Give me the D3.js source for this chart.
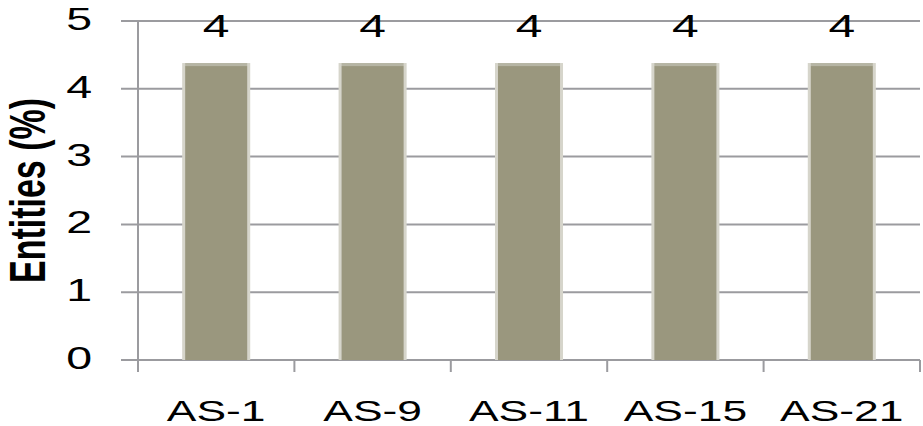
<!DOCTYPE html>
<html>
<head>
<meta charset="utf-8">
<style>
  body { margin: 0; background: #fff; }
  svg#chart { display: block; }
  .grid line { stroke: #9b9b9f; stroke-width: 2px; }
  .lbl { font-family: "Liberation Sans", Arial, sans-serif; fill: #000; }
</style>
</head>
<body>
<svg id="chart" width="923" height="426"></svg>
<script src="https://cdn.jsdelivr.net/npm/d3@7"></script>
<script>
  // data
  var categories = ["AS-1", "AS-9", "AS-11", "AS-15", "AS-21"];
  var values = [4.38, 4.38, 4.38, 4.38, 4.38];
  var yTicks = [0, 1, 2, 3, 4, 5];
  var yTitle = "Entities (%)";

  var svg = d3.select("#chart");

  var sx = 1.5; // the source picture is stretched sideways

  var x = d3.scaleBand()
    .domain(categories)
    .range([138, 920])
    .padding(0);

  var y = d3.scaleLinear()
    .domain([0, 5])
    .range([360, 21]);

  var barW = x.bandwidth() * 0.435;
  var edge = 3;

  // gridlines + tick marks on the left
  svg.append("g")
    .attr("class", "grid")
    .selectAll("line")
    .data(yTicks)
    .enter().append("line")
    .attr("x1", 121)
    .attr("x2", 920)
    .attr("y1", function (d) { return y(d); })
    .attr("y2", function (d) { return y(d); });

  // y axis line
  svg.append("line")
    .attr("x1", x.range()[0]).attr("x2", x.range()[0])
    .attr("y1", y(5)).attr("y2", y(0) + 12)
    .attr("stroke", "#9b9b9f").attr("stroke-width", 2);

  // x ticks at band edges
  var edges = categories.map(function (c) { return x(c); }).concat([x.range()[1]]);
  svg.append("g")
    .selectAll("line")
    .data(edges.slice(1))
    .enter().append("line")
    .attr("x1", function (d) { return d; })
    .attr("x2", function (d) { return d; })
    .attr("y1", y(0))
    .attr("y2", y(0) + 12)
    .attr("stroke", "#9b9b9f").attr("stroke-width", 2);

  // bars: light rim + darker fill
  var bars = svg.append("g")
    .selectAll("g")
    .data(categories)
    .enter().append("g");

  bars.append("rect")
    .attr("x", function (d) { return x(d) + (x.bandwidth() - barW) / 2; })
    .attr("y", function (d, i) { return y(values[i]); })
    .attr("width", barW)
    .attr("height", function (d, i) { return y(0) - y(values[i]); })
    .attr("fill", "#d6d5cb");

  bars.append("rect")
    .attr("x", function (d) { return x(d) + (x.bandwidth() - barW) / 2 + edge; })
    .attr("y", function (d, i) { return y(values[i]) + edge; })
    .attr("width", barW - edge * 2)
    .attr("height", function (d, i) { return y(0) - y(values[i]) - edge; })
    .attr("fill", "#9a977e");

  bars.append("rect")
    .attr("x", function (d) { return x(d) + (x.bandwidth() - barW) / 2 + edge; })
    .attr("y", function (d, i) { return y(values[i]); })
    .attr("width", barW - edge * 2)
    .attr("height", edge)
    .attr("fill", "#b6b5a4");

  // value labels
  bars.append("text")
    .attr("class", "lbl")
    .attr("text-anchor", "middle")
    .attr("font-size", 32)
    .attr("transform", function (d, i) {
      return "translate(" + (x(d) + x.bandwidth() / 2) + "," + (y(values[i]) - 26) + ") scale(" + sx + ",1)";
    })
    .text(function (d, i) { return d3.format(".0f")(values[i]); });

  // y tick labels
  svg.append("g")
    .selectAll("text")
    .data(yTicks)
    .enter().append("text")
    .attr("class", "lbl")
    .attr("text-anchor", "end")
    .attr("font-size", 31)
    .attr("transform", function (d) { return "translate(92," + (y(d) + 9) + ") scale(" + sx + ",1)"; })
    .text(function (d) { return d; });

  // category labels
  svg.append("g")
    .selectAll("text")
    .data(categories)
    .enter().append("text")
    .attr("class", "lbl")
    .attr("text-anchor", "middle")
    .attr("font-size", 30)
    .attr("transform", function (d) {
      return "translate(" + (x(d) + x.bandwidth() / 2) + "," + (y(0) + 61) + ") scale(1.48,1)";
    })
    .text(function (d) { return d; });

  // y title
  svg.append("text")
    .attr("class", "lbl")
    .attr("text-anchor", "middle")
    .attr("font-size", 34)
    .attr("font-weight", "bold")
    .attr("transform", "translate(45," + ((y(0) + y(5)) / 2) + ") scale(1.45,1) rotate(-90)")
    .text(yTitle);
</script>
</body>
</html>
